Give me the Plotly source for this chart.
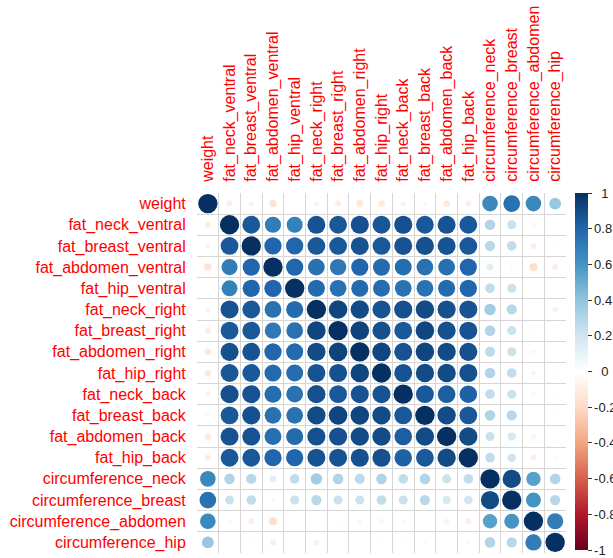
import numpy as np
import plotly.graph_objects as go

variables = ["weight", "fat_neck_ventral", "fat_breast_ventral", "fat_abdomen_ventral",
             "fat_hip_ventral", "fat_neck_right", "fat_breast_right", "fat_abdomen_right",
             "fat_hip_right", "fat_neck_back", "fat_breast_back", "fat_abdomen_back",
             "fat_hip_back", "circumference_neck", "circumference_breast",
             "circumference_abdomen", "circumference_hip"]

# lower-triangle rows of the correlation matrix (row i has i+1 values)
r_weight = [1.0]
r_fat_neck_ventral = [-0.10, 1.0]
r_fat_breast_ventral = [-0.07, 0.85, 1.0]
r_fat_abdomen_ventral = [-0.15, 0.70, 0.80, 1.0]
r_fat_hip_ventral = [0.00, 0.68, 0.80, 0.80, 1.0]
r_fat_neck_right = [-0.07, 0.87, 0.85, 0.75, 0.78, 1.0]
r_fat_breast_right = [-0.10, 0.85, 0.85, 0.72, 0.75, 0.92, 1.0]
r_fat_abdomen_right = [-0.13, 0.88, 0.87, 0.80, 0.78, 0.90, 0.93, 1.0]
r_fat_hip_right = [-0.12, 0.86, 0.85, 0.78, 0.77, 0.87, 0.88, 0.92, 1.0]
r_fat_neck_back = [-0.07, 0.88, 0.87, 0.77, 0.75, 0.88, 0.85, 0.87, 0.87, 1.0]
r_fat_breast_back = [-0.05, 0.85, 0.88, 0.75, 0.75, 0.90, 0.92, 0.92, 0.90, 0.85, 1.0]
r_fat_abdomen_back = [-0.12, 0.87, 0.87, 0.76, 0.78, 0.88, 0.88, 0.90, 0.90, 0.83, 0.90, 1.0]
r_fat_hip_back = [-0.10, 0.85, 0.85, 0.80, 0.80, 0.87, 0.87, 0.88, 0.88, 0.82, 0.85, 0.90, 1.0]
r_circ_neck = [0.65, 0.30, 0.28, 0.12, 0.25, 0.35, 0.30, 0.27, 0.30, 0.25, 0.30, 0.22, 0.25, 1.0]
r_circ_breast = [0.75, 0.22, 0.25, 0.04, 0.22, 0.28, 0.22, 0.22, 0.25, 0.22, 0.28, 0.18, 0.20, 0.90, 1.0]
r_circ_abdomen = [0.65, -0.05, -0.10, -0.18, 0.02, 0.02, -0.03, -0.05, -0.06, -0.05, -0.02, -0.07, -0.10, 0.55, 0.60, 1.0]
r_circ_hip = [0.38, 0.01, -0.03, -0.10, 0.00, 0.08, 0.01, 0.02, -0.03, -0.03, 0.03, 0.01, -0.04, 0.30, 0.28, 0.70, 1.0]

lower_rows = [r_weight, r_fat_neck_ventral, r_fat_breast_ventral, r_fat_abdomen_ventral,
              r_fat_hip_ventral, r_fat_neck_right, r_fat_breast_right, r_fat_abdomen_right,
              r_fat_hip_right, r_fat_neck_back, r_fat_breast_back, r_fat_abdomen_back,
              r_fat_hip_back, r_circ_neck, r_circ_breast, r_circ_abdomen, r_circ_hip]

n = len(variables)
corr = np.zeros((n, n))
for i, row in enumerate(lower_rows):
    for j, v in enumerate(row):
        corr[i, j] = v
        corr[j, i] = v

colorbar_ticks = [1, 0.8, 0.6, 0.4, 0.2, 0, -0.2, -0.4, -0.6, -0.8, -1]
colorbar_text = ["\u00a0\u00a01", "0.8", "0.6", "0.4", "0.2", "\u00a0\u00a00",
                 "-0.2", "-0.4", "-0.6", "-0.8", "-1"]

rdbu = ["#67001F", "#B2182B", "#D6604D", "#F4A582", "#FDDBC7", "#FFFFFF",
        "#D1E5F0", "#92C5DE", "#4393C3", "#2166AC", "#053061"]
colorscale = [[k / 10, c] for k, c in enumerate(rdbu)]

xs, ys, vals = [], [], []
for i in range(n):
    for j in range(n):
        xs.append(j)
        ys.append(i)
        vals.append(corr[i, j])
vals = np.array(vals)

cell_px = 21.5
sizes = 0.9 * cell_px * np.sqrt(np.abs(vals))

fig = go.Figure()
fig.add_trace(go.Scatter(
    x=xs, y=ys, mode="markers",
    marker=dict(
        size=sizes, color=vals, colorscale=colorscale, cmin=-1, cmax=1,
        opacity=1, line=dict(width=0),
        showscale=True,
        colorbar=dict(
            x=1.0244, xanchor="left", xpad=0,
            y=1, yanchor="top", ypad=0, len=0.992,
            thickness=13, outlinewidth=0,
            tickmode="array", tickvals=colorbar_ticks, ticktext=colorbar_text,
            ticks="outside", ticklen=4, tickcolor="#333333",
            tickfont=dict(family="Liberation Sans, Arial", size=13, color="#222222"),
        ),
    ),
    hoverinfo="skip",
    showlegend=False,
))

grid_color = "#d6d6d6"
label_font = dict(family="Liberation Sans, Arial", size=16, color="#ff0000")
fig.update_layout(
    width=613, height=558,
    margin=dict(l=197, r=47, t=193, b=5, autoexpand=False),
    paper_bgcolor="white", plot_bgcolor="white",
    xaxis=dict(
        range=[-0.5, n - 0.5], side="top",
        tickmode="array", tickvals=list(range(n)), ticktext=variables,
        tickangle=-90, ticks="outside", ticklen=7, tickcolor="rgba(0,0,0,0)",
        tickfont=label_font,
        showgrid=False, zeroline=False, showline=False,
        minor=dict(tick0=-0.5, dtick=1, showgrid=True, gridcolor=grid_color, gridwidth=1, ticks=""),
        fixedrange=True,
    ),
    yaxis=dict(
        range=[n - 0.5, -0.5],
        tickmode="array", tickvals=list(range(n)), ticktext=variables,
        ticks="outside", ticklen=7, tickcolor="rgba(0,0,0,0)",
        tickfont=label_font,
        showgrid=False, zeroline=False, showline=False,
        minor=dict(tick0=-0.5, dtick=1, showgrid=True, gridcolor=grid_color, gridwidth=1, ticks=""),
        fixedrange=True,
    ),
)

fig.write_html("out.html", config={"displayModeBar": False},
               post_script="document.body.style.margin='0';document.body.style.overflow='hidden';")
